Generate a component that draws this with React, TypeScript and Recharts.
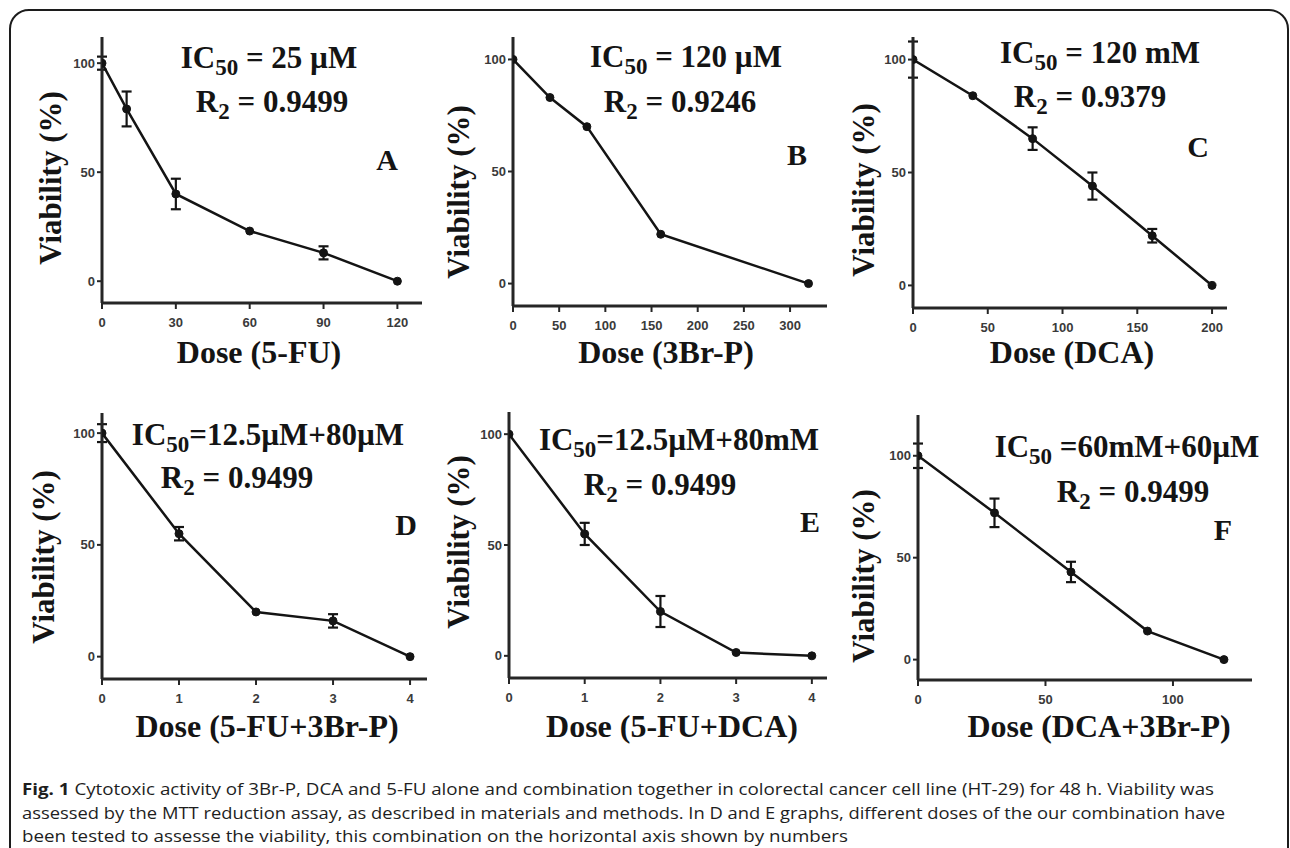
import React from 'react';
import { LineChart, Line, XAxis, YAxis, ErrorBar } from 'recharts';

// dose (x) / viability % (y) / SEM
const doseA = [0, 10, 30, 60, 90, 120];
const viabilityA = [100, 79, 40, 23, 13, 0];
const errA = [3, 8, 7, 0, 3, 0];

const doseB = [0, 40, 80, 160, 320];
const viabilityB = [100, 83, 70, 22, 0];
const errB = [0, 0, 0, 0, 0];

const doseC = [0, 40, 80, 120, 160, 200];
const viabilityC = [100, 84, 65, 44, 22, 0];
const errC = [8, 0, 5, 6, 3, 0];

const doseD = [0, 1, 2, 3, 4];
const viabilityD = [100, 55, 20, 16, 0];
const errD = [4, 3, 0, 3, 0];

const doseE = [0, 1, 2, 3, 4];
const viabilityE = [100, 55, 20, 1.5, 0];
const errE = [0, 5, 7, 0, 0];

const doseF = [0, 30, 60, 90, 120];
const viabilityF = [100, 72, 43, 14, 0];
const errF = [6, 7, 5, 0, 0];

const ticksA = [0, 30, 60, 90, 120];
const ticksB = [0, 50, 100, 150, 200, 250, 300];
const ticksC = [0, 50, 100, 150, 200];
const ticksCombo = [0, 1, 2, 3, 4];
const ticksF = [0, 50, 100];
const viabilityTicks = [0, 50, 100];

const panelLetters = ['A', 'B', 'C', 'D', 'E', 'F'];
const doseLabels = ['Dose (5-FU)', 'Dose (3Br-P)', 'Dose (DCA)', 'Dose (5-FU+3Br-P)', 'Dose (5-FU+DCA)', 'Dose (DCA+3Br-P)'];
const ic50Values = [' = 25 µM', ' = 120 µM', ' = 120 mM', '=12.5µM+80µM', '=12.5µM+80mM', ' =60mM+60µM'];
const r2Values = ['0.9499', '0.9246', '0.9379', '0.9499', '0.9499', '0.9499'];

const captionLines = [
  'Cytotoxic activity of 3Br-P, DCA and 5-FU alone and combination together in colorectal cancer cell line (HT-29) for 48 h. Viability was',
  'assessed by the MTT reduction assay, as described in materials and methods. In D and E graphs, different doses of the our combination have',
  'been tested to assesse the viability, this combination on the horizontal axis shown by numbers',
];

const series = [
  { dose: doseA, viability: viabilityA, err: errA, xTicks: ticksA, xDomain: [0, 130], yDomain: [-10, 112] },
  { dose: doseB, viability: viabilityB, err: errB, xTicks: ticksB, xDomain: [0, 340], yDomain: [-10, 110] },
  { dose: doseC, viability: viabilityC, err: errC, xTicks: ticksC, xDomain: [0, 210], yDomain: [-10, 110] },
  { dose: doseD, viability: viabilityD, err: errD, xTicks: ticksCombo, xDomain: [0, 4.22], yDomain: [-10, 109] },
  { dose: doseE, viability: viabilityE, err: errE, xTicks: ticksCombo, xDomain: [0, 4.2], yDomain: [-10, 110] },
  { dose: doseF, viability: viabilityF, err: errF, xTicks: ticksF, xDomain: [0, 131], yDomain: [-10, 120] },
];

// page positions: plot box, annotation anchors (baseline, centre x)
const layout = [
  { plot: { l: 102, t: 37, r: 422, b: 303 }, ic: [269, 68], r2: [272, 112], letter: [387, 170], xl: [259, 363], yl: [50, 178] },
  { plot: { l: 513, t: 37, r: 827, b: 306 }, ic: [686, 67], r2: [680, 112], letter: [797, 165], xl: [666, 363], yl: [458, 192] },
  { plot: { l: 913, t: 37, r: 1227, b: 308 }, ic: [1100, 63], r2: [1090, 107], letter: [1198, 157], xl: [1072, 363], yl: [863, 190] },
  { plot: { l: 102, t: 413, r: 427, b: 679 }, ic: [268, 445], r2: [237, 488], letter: [406, 535], xl: [267, 737], yl: [43, 557] },
  { plot: { l: 509, t: 412, r: 827, b: 678 }, ic: [679, 450], r2: [660, 495], letter: [810, 532], xl: [672, 737], yl: [458, 542] },
  { plot: { l: 918, t: 415, r: 1252, b: 680 }, ic: [1127, 457], r2: [1133, 502], letter: [1223, 540], xl: [1099, 737], yl: [863, 576] },
];

const Y_W = 50;
const X_H = 40;
const M_TOP = 6;
const M_RIGHT = 6;
const INK = '#141414';
const serif = '"Liberation Serif", "Times New Roman", serif';
const tickStyle = { fontSize: 13, fontWeight: 700, fill: '#3a3a3a', fontFamily: '"Liberation Sans", Arial, sans-serif' };

function Panel({ idx }: { idx: number }) {
  const s = series[idx];
  const { plot } = layout[idx];
  const data = s.dose.map((d, i) => ({ dose: d, viability: s.viability[i], err: s.err[i] || null }));
  const w = plot.r - plot.l;
  const h = plot.b - plot.t;

  return (
    <div style={{ position: 'absolute', left: plot.l - Y_W, top: plot.t - M_TOP }}>
      <LineChart
        width={Y_W + w + M_RIGHT}
        height={M_TOP + h + X_H}
        data={data}
        margin={{ top: M_TOP, right: M_RIGHT, bottom: 0, left: 0 }}
      >
        <XAxis
          type="number"
          dataKey="dose"
          domain={s.xDomain}
          ticks={s.xTicks}
          allowDataOverflow
          height={X_H}
          tickSize={6}
          tickMargin={9}
          axisLine={{ stroke: '#262626', strokeWidth: 3 }}
          tickLine={{ stroke: '#262626', strokeWidth: 2 }}
          tick={tickStyle}
        />
        <YAxis
          type="number"
          domain={s.yDomain}
          ticks={viabilityTicks}
          allowDataOverflow
          width={Y_W}
          tickSize={5}
          tickMargin={2}
          axisLine={{ stroke: '#262626', strokeWidth: 3 }}
          tickLine={{ stroke: '#262626', strokeWidth: 2 }}
          tick={tickStyle}
        />
        <Line
          type="linear"
          dataKey="viability"
          stroke={INK}
          strokeWidth={2.5}
          dot={{ r: 4, fill: INK, stroke: INK, strokeWidth: 1 }}
          isAnimationActive={false}
        >
          <ErrorBar dataKey="err" direction="y" width={5} stroke={INK} strokeWidth={2.2} />
        </Line>
      </LineChart>
    </div>
  );
}

function Annotations() {
  return (
    <svg width={1290} height={848} style={{ position: 'absolute', left: 0, top: 0, pointerEvents: 'none' }}>
      {layout.map((p, i) => (
        <g key={i} fill={INK} fontFamily={serif} fontWeight={700}>
          <text x={p.ic[0]} y={p.ic[1]} textAnchor="middle" fontSize={31}>
            IC<tspan fontSize={23} dy={7}>50</tspan>
            <tspan dy={-7}>{ic50Values[i]}</tspan>
          </text>
          <text x={p.r2[0]} y={p.r2[1]} textAnchor="middle" fontSize={31}>
            R<tspan fontSize={23} dy={7}>2</tspan>
            <tspan dy={-7}>{' = ' + r2Values[i]}</tspan>
          </text>
          <text x={p.letter[0]} y={p.letter[1]} textAnchor="middle" fontSize={30}>
            {panelLetters[i]}
          </text>
          <text x={p.xl[0]} y={p.xl[1]} textAnchor="middle" fontSize={32}>
            {doseLabels[i]}
          </text>
          <text
            x={p.yl[0]}
            y={p.yl[1]}
            textAnchor="middle"
            dominantBaseline="central"
            fontSize={31}
            transform={`rotate(-90 ${p.yl[0]} ${p.yl[1]})`}
          >
            Viability (%)
          </text>
        </g>
      ))}
      <g fill="#1e1e1e" fontFamily='"Liberation Sans Narrow", "Open Sans", sans-serif' fontSize={16.5}>
        <text x={22} y={795} textLength={1192} lengthAdjust="spacingAndGlyphs">
          <tspan fontWeight={700}>Fig. 1</tspan> {captionLines[0]}
        </text>
        <text x={22} y={819} textLength={1203} lengthAdjust="spacingAndGlyphs">
          {captionLines[1]}
        </text>
        <text x={22} y={842} textLength={826} lengthAdjust="spacingAndGlyphs">
          {captionLines[2]}
        </text>
      </g>
    </svg>
  );
}

export default function App() {
  return (
    <div style={{ position: 'absolute', left: 0, top: 0, width: 1290, height: 848, overflow: 'hidden', background: '#fff' }}>
      <div
        style={{
          position: 'absolute',
          left: 9,
          top: 9,
          width: 1280,
          height: 900,
          border: '2px solid #1c1c1c',
          borderRadius: 20,
          boxSizing: 'border-box',
        }}
      />
      {series.map((_, i) => (
        <Panel key={i} idx={i} />
      ))}
      <Annotations />
    </div>
  );
}
